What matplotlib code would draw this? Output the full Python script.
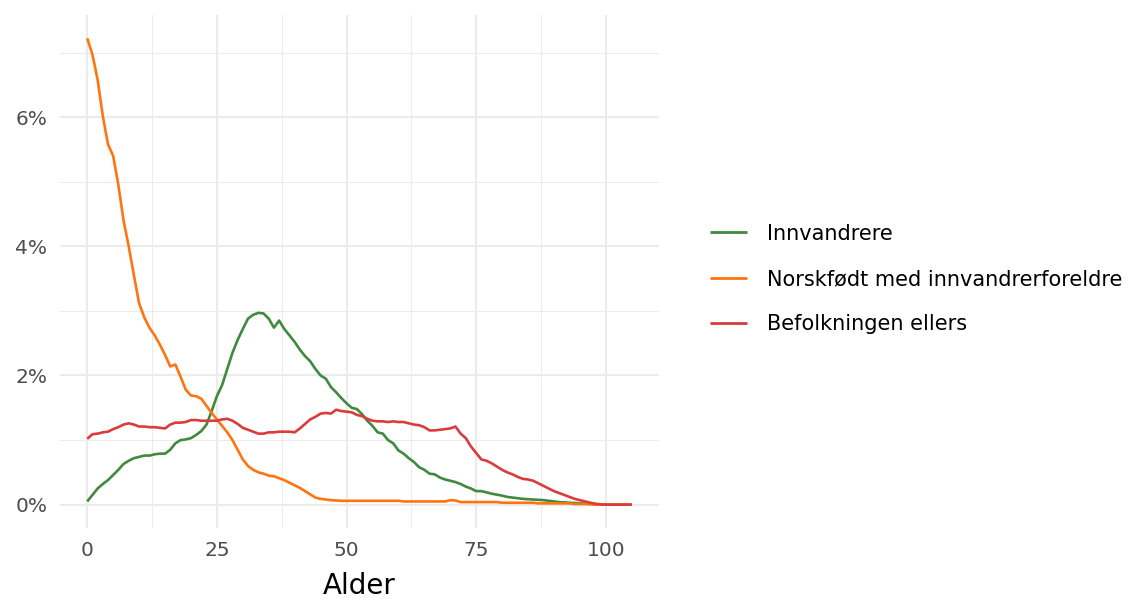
import numpy as np
import matplotlib
matplotlib.use("Agg")
import matplotlib.pyplot as plt
from matplotlib.ticker import MultipleLocator, FuncFormatter

ages = list(range(0, 106))

innvandrere = [
    0.05, 0.15, 0.25, 0.32, 0.38, 0.46, 0.54, 0.63, 0.68, 0.72,
    0.74, 0.76, 0.76, 0.78, 0.79, 0.79, 0.85, 0.95, 1.00, 1.01,
    1.03, 1.08, 1.14, 1.24, 1.45, 1.68, 1.85, 2.10, 2.35, 2.55,
    2.72, 2.88, 2.94, 2.97, 2.96, 2.88, 2.74, 2.85, 2.72, 2.62,
    2.52, 2.40, 2.30, 2.22, 2.10, 2.00, 1.95, 1.82, 1.74, 1.65,
    1.57, 1.50, 1.48, 1.40, 1.30, 1.22, 1.12, 1.10, 1.00, 0.95,
    0.84, 0.79, 0.72, 0.66, 0.58, 0.54, 0.48, 0.47, 0.42, 0.39,
    0.37, 0.35, 0.32, 0.28, 0.25, 0.21, 0.21, 0.19, 0.17, 0.155,
    0.14, 0.12, 0.11, 0.10, 0.09, 0.085, 0.08, 0.075, 0.07, 0.06,
    0.05, 0.04, 0.035, 0.03, 0.025, 0.02, 0.015, 0.01, 0.005, 0.0,
    0.0, 0.0, 0.0, 0.0, 0.0, 0.0,
]

norskfodt = [
    7.22, 6.97, 6.58, 6.02, 5.58, 5.40, 4.95, 4.40, 4.00, 3.55,
    3.12, 2.90, 2.74, 2.62, 2.48, 2.32, 2.14, 2.17, 1.98, 1.78,
    1.69, 1.68, 1.64, 1.53, 1.42, 1.32, 1.22, 1.12, 1.00, 0.85,
    0.70, 0.60, 0.54, 0.50, 0.48, 0.45, 0.44, 0.41, 0.38, 0.34,
    0.30, 0.26, 0.21, 0.16, 0.11, 0.09, 0.08, 0.07, 0.065, 0.06,
    0.06, 0.06, 0.06, 0.06, 0.06, 0.06, 0.06, 0.06, 0.06, 0.06,
    0.06, 0.05, 0.05, 0.05, 0.05, 0.05, 0.05, 0.05, 0.05, 0.05,
    0.07, 0.065, 0.04, 0.04, 0.04, 0.04, 0.04, 0.04, 0.04, 0.04,
    0.03, 0.03, 0.03, 0.03, 0.03, 0.03, 0.03, 0.02, 0.02, 0.02,
    0.02, 0.02, 0.02, 0.02, 0.01, 0.01, 0.01, 0.01, 0.0, 0.0,
    0.0, 0.0, 0.0, 0.0, 0.0, 0.0,
]

ellers = [
    1.02, 1.09, 1.10, 1.12, 1.13, 1.17, 1.20, 1.24, 1.26, 1.24,
    1.21, 1.21, 1.20, 1.20, 1.19, 1.18, 1.24, 1.27, 1.27, 1.28,
    1.31, 1.31, 1.30, 1.30, 1.30, 1.30, 1.32, 1.33, 1.30, 1.25,
    1.19, 1.16, 1.13, 1.10, 1.10, 1.12, 1.12, 1.13, 1.13, 1.13,
    1.12, 1.18, 1.25, 1.32, 1.36, 1.41, 1.42, 1.41, 1.47, 1.45,
    1.44, 1.43, 1.39, 1.37, 1.33, 1.30, 1.29, 1.29, 1.28, 1.29,
    1.28, 1.28, 1.26, 1.24, 1.23, 1.20, 1.15, 1.15, 1.16, 1.17,
    1.18, 1.21, 1.10, 1.03, 0.90, 0.80, 0.70, 0.68, 0.64, 0.59,
    0.54, 0.50, 0.47, 0.43, 0.40, 0.39, 0.37, 0.33, 0.29, 0.25,
    0.21, 0.18, 0.15, 0.12, 0.09, 0.07, 0.05, 0.03, 0.015, 0.005,
    0.0, 0.0, 0.0, 0.0, 0.0, 0.0,
]

series = [
    ("Innvandrere", innvandrere, "#3f8a3f"),
    ("Norskfødt med innvandrerforeldre", norskfodt, "#ff7410"),
    ("Befolkningen ellers", ellers, "#db3b3b"),
]

plt.rcParams['font.family'] = ['DejaVu Sans']

fig = plt.figure(figsize=(11.31, 5.99), dpi=100)
ax = fig.add_axes([60 / 1131, (599 - 528) / 599, 599 / 1131, 513 / 599])

for name, vals, col in series:
    ax.plot(ages, vals, color=col, lw=1.9, label=name, solid_capstyle='butt')

ymax = max(norskfodt)
ax.set_xlim(-5.25, 110.25)
ax.set_ylim(-0.05 * ymax, ymax * 1.05)

ax.xaxis.set_major_locator(MultipleLocator(25))
ax.xaxis.set_minor_locator(MultipleLocator(12.5))
ax.yaxis.set_major_locator(MultipleLocator(2))
ax.yaxis.set_minor_locator(MultipleLocator(1))
ax.yaxis.set_major_formatter(FuncFormatter(lambda v, p: f"{v:.0f}%"))

ax.grid(True, which='major', color='#ebebeb', lw=1.5)
ax.grid(True, which='minor', color='#ebebeb', lw=0.75)
ax.set_axisbelow(True)
for s in ax.spines.values():
    s.set_visible(False)
ax.tick_params(which='both', length=0)
ax.tick_params(axis='both', labelsize=14.5, colors='#4d4d4d', pad=9)

ax.set_xlabel("Alder", fontsize=20, color='black', labelpad=9)

leg = fig.legend(loc='center left', bbox_to_anchor=(691 / 1131, 1 - 279 / 599),
                 frameon=False, fontsize=15, handlelength=1.8,
                 handletextpad=0.95, labelspacing=1.22)
for line in leg.get_lines():
    line.set_linewidth(2)

fig.savefig("out.png", dpi=100)
